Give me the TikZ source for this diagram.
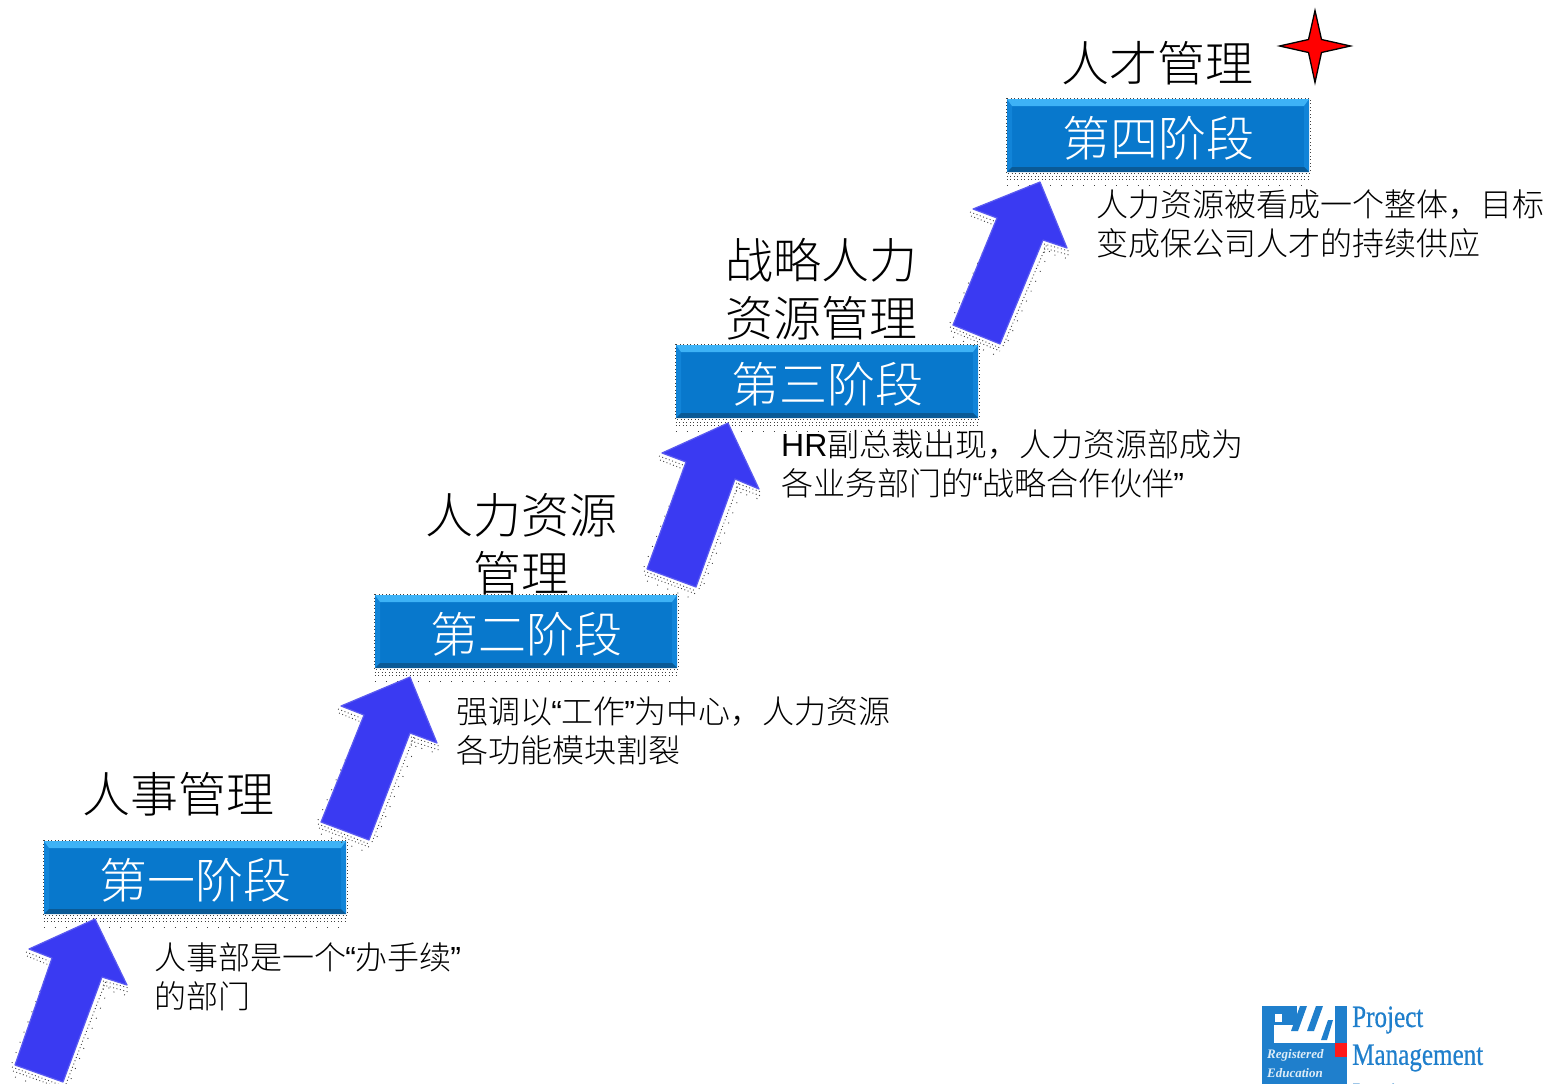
\documentclass[tikz,border=0pt]{standalone}
\usepackage{fontspec}
\setmainfont{Liberation Sans}
\newfontfamily\cjk{Noto Sans CJK SC}[UprightFont=* Light]
\newfontfamily\logofont{Liberation Serif}[FakeBold=0.6]
\newfontfamily\logosmallfont{Liberation Serif}
\usetikzlibrary{calc}
\definecolor{stagemain}{HTML}{0878CC}
\definecolor{stagetop}{HTML}{3DB2F6}
\definecolor{stageside}{HTML}{1184D8}
\definecolor{stagebot}{HTML}{0A5A96}
\definecolor{arrowblue}{HTML}{3A3AF2}
\definecolor{arrowedge}{HTML}{5A5AF0}
\definecolor{pmiblue}{HTML}{1F7FCC}
\newcommand{\qq}[1]{{\fontspec{Liberation Sans}#1}}
\newcommand{\qm}[1]{\kern-.8pt{\fontspec{Liberation Sans}#1}\kern-.8pt}
\tikzset{
  x=1pt,y=-1pt,
  stagebox/.style={rectangle,inner sep=0pt,minimum width=302pt,minimum height=73pt,
    text=white,text height=48pt,text depth=6pt,font=\cjk\fontsize{48}{48}\selectfont,
    path picture={
      \fill[stagemain] (path picture bounding box.south west) rectangle (path picture bounding box.north east);
      \fill[stageside] (path picture bounding box.north west) -- ([xshift=5pt,yshift=-7pt]path picture bounding box.north west) -- ([xshift=5pt,yshift=5pt]path picture bounding box.south west) -- (path picture bounding box.south west) -- cycle;
      \fill[stageside] (path picture bounding box.north east) -- ([xshift=-5pt,yshift=-7pt]path picture bounding box.north east) -- ([xshift=-5pt,yshift=5pt]path picture bounding box.south east) -- (path picture bounding box.south east) -- cycle;
      \fill[stagetop] (path picture bounding box.north west) -- (path picture bounding box.north east)
        -- ([xshift=-5pt,yshift=-7pt]path picture bounding box.north east) -- ([xshift=5pt,yshift=-7pt]path picture bounding box.north west) -- cycle;
      \fill[stagebot] (path picture bounding box.south west) -- (path picture bounding box.south east)
        -- ([xshift=-5pt,yshift=5pt]path picture bounding box.south east) -- ([xshift=5pt,yshift=5pt]path picture bounding box.south west) -- cycle;
    }},
  titletext/.style={inner sep=0pt,align=center,text=black,font=\cjk\fontsize{48}{58}\selectfont},
  bodytext/.style={inner sep=0pt,anchor=west,align=left,text=black,font=\cjk\fontsize{32}{39}\selectfont},
  upblock/.style={fill=arrowblue,draw=arrowedge,line width=1.2pt,line join=round},
  halo/.style={draw=black!75,line width=.9pt,dash pattern=on .9pt off 2.6pt},
  halosparse/.style={draw=black!75,line width=.9pt,dash pattern=on .9pt off 10pt},
  fourstar/.style={fill=red,draw=black,line width=1.3pt,line join=miter},
  logoword/.style={inner sep=0pt,anchor=west,text=pmiblue,font=\logofont\fontsize{31}{31}\selectfont,xscale=.81,transform shape},
  logosmall/.style={inner sep=0pt,anchor=west,text=white!85!pmiblue,font=\logosmallfont\itshape\bfseries\fontsize{13}{13}\selectfont},
}
\newcommand{\blockup}[7]{
  % dotted shadow: under both barbs, under the tail, along the right side
  \draw[halo] ($(#2)+(-3,3)$) -- ($(#3)+(-3,3)$) ($(#2)+(-2,7)$) -- ($(#3)+(-3,7)$);
  \draw[halo] ($(#6)+(1,4)$) -- ($(#7)+(2,3)$) ($(#6)+(1,8)$) -- ($(#7)+(2,7)$);
  \draw[halosparse] ($(#6)+(1,12)$) -- ($(#7)+(2,11)$);
  \draw[halo] ($(#4)+(-3,2)$) -- ($(#5)+(0,4)$) ($(#4)+(-2,6)$) -- ($(#5)+(0,7)$);
  \draw[halosparse] ($(#4)+(0,12)$) -- ($(#5)+(0,13)$);
  \draw[halo] ($(#5)+(3,2)$) -- ($(#6)+(4,4)$);
  \draw[halosparse] ($(#5)+(8,-3)$) -- ($(#6)+(9,6)$);
  \draw[halosparse] ($(#4)+(-3,-2)$) -- ($(#3)+(-3,10)$);
  \draw[upblock] (#1) -- (#2) -- (#3) -- (#4) -- (#5) -- (#6) -- (#7) -- cycle;
}
\begin{document}
\begin{tikzpicture}
\useasboundingbox (0,0) rectangle (1553,1084);
\fill[white] (0,0) rectangle (1553,1084);

% titles
\node[titletext] (t1) at (178,794) {人事管理};
\node[titletext] (t2) at (521,544.5) {人力资源\\管理};
\node[titletext] (t3) at (821,289) {战略人力\\资源管理};
\node[titletext] (t4) at (1157,63) {人才管理};

% stage boxes
\node[stagebox] (s1) at (195,877.5) {第一阶段};
\node[stagebox] (s2) at (526,631.5) {第二阶段};
\node[stagebox] (s3) at (827,381.5) {第三阶段};
\node[stagebox] (s4) at (1158,135.5) {第四阶段};

% dotted halo of the boxes
\foreach \s in {s1,s2,s3,s4}{
  \draw[halo] ([shift={(-.8,-.8)}]\s.north west) rectangle ([shift={(.8,.8)}]\s.south east);
  \draw[halo] ([yshift=-4pt]\s.south west) -- ([yshift=-4pt]\s.south east);
  \draw[halo] ([yshift=-7pt]\s.south west) -- ([yshift=-7pt]\s.south east);
  \draw[halosparse] ([yshift=-13pt]\s.south west) -- ([yshift=-13pt]\s.south east);
}

% block arrows: tip, left barb, left neck, tail left, tail right, right neck, right barb
\blockup{95,919}{29,949}{52,958}{15,1065}{63,1082}{102,977}{127,985}
\blockup{410,677}{341,706}{364,715}{321,822}{369,840}{410,733}{437,743}
\blockup{728,423}{662,453}{686,462}{647,569}{696,587}{735,479}{759,489}
\blockup{1040,182}{973,209}{997,218}{953,325}{1000,344}{1043,240}{1067,248}

% descriptions
\node[bodytext] (d1) at (154,976.5) {人事部是一个\qm{“}办手续\qm{”}\\的部门};
\node[bodytext] (d2) at (456,730.5) {强调以\qm{“}工作\qm{”}为中心，人力资源\\各功能模块割裂};
\node[bodytext] (d3) at (781,464) {\qq{HR}副总裁出现，人力资源部成为\\各业务部门的\qm{“}战略合作伙伴\qm{”}};
\node[bodytext] (d4) at (1096,223.5) {人力资源被看成一个整体，目标\\变成保公司人才的持续供应};

% star
\draw[fourstar] (1315,10.5) -- (1321.5,39.5) -- (1350.5,46) -- (1321.5,52.5) -- (1315,82.5) -- (1308.5,52.5) -- (1279.5,46) -- (1308.5,39.5) -- cycle;

% logo
\begin{scope}
\clip (0,0) rectangle (1553,1084);
\fill[pmiblue] (1262,1006) rectangle (1347,1084);
\fill[white] (1274,1025) -- (1335,1025) -- (1335,1043) -- (1274,1043) -- cycle;
\fill[white] (1297,1006) rectangle (1335,1026);
\fill[white] (1275,1014) rectangle (1282,1022);
\fill[pmiblue] (1300,1006) -- (1307,1006) -- (1298,1031) -- (1291,1031) -- cycle;
\fill[pmiblue] (1316,1006) -- (1323,1006) -- (1314,1031) -- (1307,1031) -- cycle;
\fill[pmiblue] (1328,1020) -- (1333,1020) -- (1327,1040) -- (1321,1040) -- cycle;
\fill[red!90!white] (1335,1043) rectangle (1347,1057);
\node[logosmall] (l1) at (1267,1055) {Registered};
\node[logosmall] (l2) at (1267,1073) {Education};
\node[logoword] (w1) at (1352,1020) {Project};
\node[logoword] (w2) at (1352,1058) {Management};
\node[logoword] (w3) at (1352,1094) {Institute};
\end{scope}
\end{tikzpicture}
\end{document}
